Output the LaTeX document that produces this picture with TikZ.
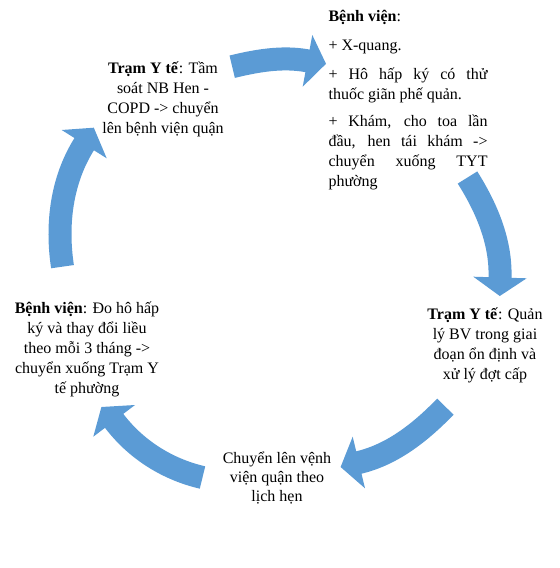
\documentclass[tikz,border=0pt]{standalone}
\usepackage{fontspec}
\setmainfont{Liberation Serif}
\definecolor{ablue}{HTML}{5B9BD5}
\begin{document}
\begin{tikzpicture}[x=0.75pt,y=-0.75pt,
  shaft/.style={draw=ablue,line width=17.25pt},
  head/.style={fill=ablue},
  lbl/.style={inner sep=0pt,font={\fontsize{12}{15}\selectfont\lineskiplimit=-20pt},align=center,anchor=north}]
\useasboundingbox (0,0) rectangle (560,568);

% ---- text nodes ----
\node[lbl] (tyt1) at (163,56) {\rule{0pt}{13pt}\textbf{Trạm Y tế}: Tầm\\ soát NB Hen -\\ COPD -> chuyển\\ lên bệnh viện quận};
\node[lbl,align=left,anchor=north west] (bv1) at (328.3,3.67) {\rule{0pt}{13pt}\textbf{Bệnh viện}:\\[6.75pt]
+ X-quang.\\[6.75pt]
\makebox[119.25pt][s]{+ Hô hấp ký có thử}\\
thuốc giãn phế quản.\\[5.25pt]
\makebox[119.25pt][s]{+ Khám, cho toa lần}\\
\makebox[119.25pt][s]{đầu, hen tái khám ->}\\
\makebox[119.25pt][s]{chuyển xuống TYT}\\
phường};
\node[lbl] (tyt2) at (485,302) {\rule{0pt}{13pt}\textbf{Trạm Y tế}: Quản\\ lý BV trong giai\\ đoạn ổn định và\\ xử lý đợt cấp};
\node[lbl] (chuyen) at (277,445.4) {\rule{0pt}{13pt}Chuyển lên vệnh\\[-0.75pt] viện quận theo\\[-0.75pt] lịch hẹn};
\node[lbl] (bv2) at (87,296) {\rule{0pt}{13pt}\textbf{Bệnh viện}: Đo hô hấp\\ ký và thay đổi liều\\ theo mỗi 3 tháng ->\\ chuyển xuống Trạm Y\\ tế phường};

% ---- arrow anchor coordinates ----
\coordinate (aTs) at (232.2,66.7);   \coordinate (aTe) at (307.5,60.85);
\coordinate (aRs) at (467.5,177.5);  \coordinate (aRe) at (500,277.5);
\coordinate (aBRs) at (445.35,406.65); \coordinate (aBRe) at (358.85,462.5);
\coordinate (aBLs) at (202.5,477.5); \coordinate (aBLe) at (114.15,420.85);
\coordinate (aLs) at (62.5,266.65);  \coordinate (aLe) at (84.2,144.15);

% top arrow
\draw[shaft] (aTs) .. controls (256.9,60.7) and (282.5,56.2) .. (aTe) -- ++(1.97,0.37);
\fill[head] (312.3,35) -- (326,63.8) -- (302.7,86.7) -- cycle;
% right arrow
\draw[shaft] (aRs) .. controls (486.6,207.8) and (501.1,241.7) .. (aRe) -- ++(-0.06,2);
\fill[head] (473.3,276.7) -- (499.8,296) -- (526.7,278.3) -- cycle;
% bottom-right arrow
\draw[shaft] (aBRs) .. controls (421.0,431.8) and (392.9,454.4) .. (aBRe) -- ++(-1.95,0.46);
\fill[head] (352.7,436.7) -- (340.6,467) -- (365,488.3) -- cycle;
% bottom-left arrow
\draw[shaft] (aBLs) .. controls (167.3,469.3) and (136.0,449.6) .. (aBLe) -- ++(-1.21,-1.59);
\fill[head] (135,405) -- (101.4,407) -- (93.3,436.7) -- cycle;
% left arrow
\draw[shaft] (aLs) .. controls (56.1,224.4) and (61.5,180.3) .. (aLe) -- ++(1.06,-1.69);
\fill[head] (61.7,130) -- (93.8,127.7) -- (106.7,158.3) -- cycle;
\end{tikzpicture}
\end{document}
